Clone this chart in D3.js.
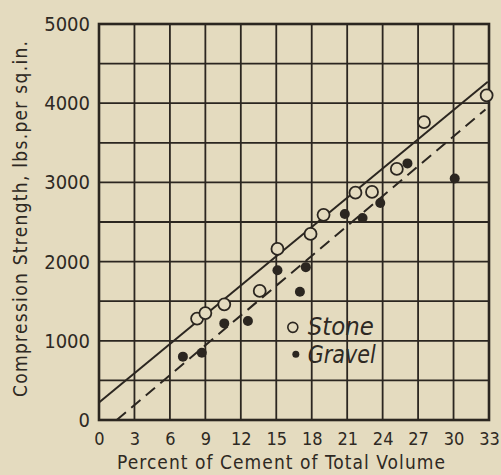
<!DOCTYPE html>
<html>
<head>
<meta charset="utf-8">
<script src="https://cdn.jsdelivr.net/npm/d3@7"></script>
<style>
  body { margin: 0; background: #e4dbbf; }
  svg { display: block; }
  .lbl { font-family: "DejaVu Sans Condensed", "DejaVu Sans", sans-serif; fill: #2e2923; }
</style>
</head>
<body>
<div id="chart"></div>
<script>
// tick labels
var xTicks = [0, 3, 6, 9, 12, 15, 18, 21, 24, 27, 30, 33];
var yTicks = [0, 1000, 2000, 3000, 4000, 5000];
var yGrid = [0, 500, 1000, 1500, 2000, 2500, 3000, 3500, 4000, 4500, 5000];

// percent cement / strength
var stoneX = [8.3, 9.0, 10.6, 13.6, 15.1, 17.9, 19.0, 21.7, 23.1, 25.2, 27.5, 32.8];
var stoneY = [1280, 1350, 1460, 1630, 2160, 2350, 2590, 2870, 2880, 3170, 3760, 4100];
var gravelX = [7.1, 8.7, 10.6, 12.6, 15.1, 17.0, 17.5, 20.8, 22.3, 23.8, 26.1, 30.1];
var gravelY = [800, 850, 1220, 1250, 1890, 1620, 1930, 2600, 2550, 2740, 3240, 3050];

// fitted lines (end points)
var stoneLine = [[0, 220], [32.9, 4270]];
var gravelLine = [[1.5, 0], [32.7, 3920]];

drawChart();

function drawChart() {
  var W = 501, H = 475;
  var margin = {top: 24, right: 12, bottom: 55, left: 99};
  var width = W - margin.left - margin.right,
      height = H - margin.top - margin.bottom;
  var ink = "#2b2620";

  var svg = d3.select("#chart").append("svg").attr("width", W).attr("height", H);
  var g = svg.append("g").attr("transform", "translate(" + margin.left + "," + margin.top + ")");

  var x = d3.scaleLinear().domain([0, 33]).range([0, width]);
  var y = d3.scaleLinear().domain([0, 5000]).range([height, 0]);

  // grid
  g.selectAll("line.vg").data(xTicks).enter().append("line")
      .attr("x1", d => x(d)).attr("x2", d => x(d))
      .attr("y1", 0).attr("y2", height)
      .attr("stroke", ink).attr("stroke-width", 1.8);
  g.selectAll("line.hg").data(yGrid).enter().append("line")
      .attr("y1", d => y(d)).attr("y2", d => y(d))
      .attr("x1", 0).attr("x2", width)
      .attr("stroke", ink).attr("stroke-width", 1.8);
  g.append("rect").attr("width", width).attr("height", height)
      .attr("fill", "none").attr("stroke", ink).attr("stroke-width", 2.6);

  // axes labels via d3 axes, lines hidden
  var xAxis = g.append("g").attr("transform", "translate(0," + height + ")")
      .call(d3.axisBottom(x).tickValues(xTicks).tickSize(0).tickPadding(12).tickFormat(d3.format("d")));
  var yAxis = g.append("g")
      .call(d3.axisLeft(y).tickValues(yTicks).tickSize(0).tickPadding(9).tickFormat(d3.format("d")));
  [xAxis, yAxis].forEach(function (a) {
    a.select(".domain").remove();
    a.selectAll("text").attr("class", "lbl").attr("fill", "#2e2923").style("font-size", "18px");
  });
  yAxis.selectAll("text").style("font-size", "20px");

  // fitted lines
  var line = d3.line().x(d => x(d[0])).y(d => y(d[1]));
  g.append("path").datum(stoneLine).attr("d", line)
      .attr("fill", "none").attr("stroke", ink).attr("stroke-width", 2);
  g.append("path").datum(gravelLine).attr("d", line)
      .attr("fill", "none").attr("stroke", ink).attr("stroke-width", 2)
      .attr("stroke-dasharray", "12,7");

  // points
  g.selectAll("circle.stone").data(stoneX).enter().append("circle")
      .attr("cx", d => x(d)).attr("cy", (d, i) => y(stoneY[i])).attr("r", 6)
      .attr("fill", "#e4dbbf").attr("stroke", ink).attr("stroke-width", 1.8);
  g.selectAll("circle.gravel").data(gravelX).enter().append("circle")
      .attr("cx", d => x(d)).attr("cy", (d, i) => y(gravelY[i])).attr("r", 5)
      .attr("fill", ink);

  // legend
  var lg = g.append("g").attr("transform", "translate(" + x(16.4) + "," + y(1170) + ")");
  lg.append("circle").attr("cx", 0).attr("cy", 0).attr("r", 5)
      .attr("fill", "none").attr("stroke", ink).attr("stroke-width", 1.6);
  lg.append("text").attr("class", "lbl").attr("x", 15).attr("y", 8)
      .attr("textLength", 66).attr("lengthAdjust", "spacingAndGlyphs")
      .style("font-size", "24px").style("font-style", "italic").text("Stone");
  lg.append("circle").attr("cx", 3).attr("cy", 27).attr("r", 3.5).attr("fill", ink);
  lg.append("text").attr("class", "lbl").attr("x", 15).attr("y", 36)
      .attr("textLength", 68).attr("lengthAdjust", "spacingAndGlyphs")
      .style("font-size", "24px").style("font-style", "italic").text("Gravel");

  // titles
  svg.append("text").attr("class", "lbl")
      .attr("transform", "translate(27," + (margin.top + height / 2 - 3) + ") rotate(-90)")
      .attr("text-anchor", "middle").style("font-size", "19px")
      .attr("textLength", 356).attr("lengthAdjust", "spacing")
      .text("Compression Strength, lbs.per sq.in.");
  svg.append("text").attr("class", "lbl")
      .attr("x", 281).attr("y", 469).attr("text-anchor", "middle").style("font-size", "19px")
      .attr("textLength", 328).attr("lengthAdjust", "spacing")
      .text("Percent of Cement of Total Volume");
}
</script>
</body>
</html>
